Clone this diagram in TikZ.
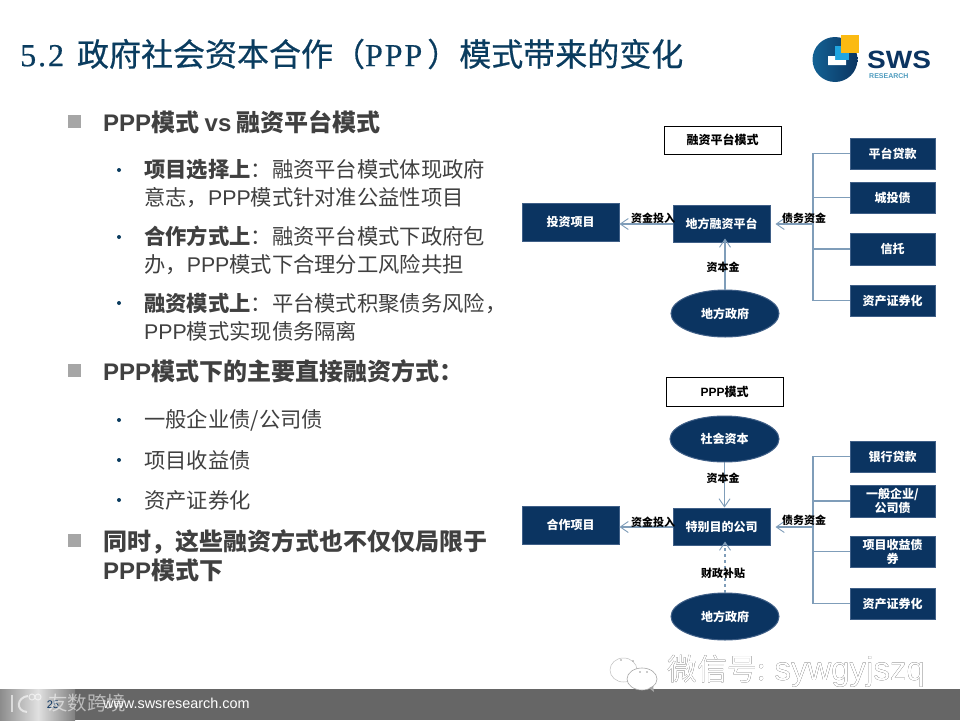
\documentclass[tikz,border=0pt]{standalone}
\usepackage{fontspec}
\usepackage[outline]{contour}
\setmainfont{Noto Sans CJK SC}
\newfontfamily\latfont{Liberation Sans}
\newfontfamily\titlefont[LetterSpace=6,FakeBold=0.5]{Liberation Serif}
\newfontfamily\titlecjk[FakeBold=0.5]{Noto Sans CJK SC}
\usetikzlibrary{shapes.geometric,arrows.meta,shadings}
\contourlength{0.9pt}
\definecolor{navy}{HTML}{0B3461}
\definecolor{navyline}{HTML}{3F5F87}
\definecolor{connline}{HTML}{7F9DB9}
\definecolor{titlecol}{HTML}{0A3C5F}
\definecolor{bodycol}{HTML}{404040}
\definecolor{barcol}{HTML}{666666}
\definecolor{goldcol}{HTML}{FBBA12}
\definecolor{skycol}{HTML}{1FA5E0}
\definecolor{tealcol}{HTML}{4F9CBF}
\tikzset{
  bluebox/.style={rectangle,draw=navyline,fill=navy,line width=1pt,text=white,font=\bfseries\fontsize{12}{14}\selectfont,align=center,inner sep=0pt},
  blueoval/.style={ellipse,draw=navyline,fill=navy,line width=1pt,text=white,font=\bfseries\fontsize{12}{14}\selectfont,inner sep=0pt},
  titlebox/.style={rectangle,draw=black,fill=white,line width=0.7pt,font=\bfseries\fontsize{12}{14}\selectfont,inner sep=0pt},
  conn/.style={draw=connline,line width=1.2pt},
  flow/.style={conn,-{Straight Barb[length=8pt,width=11pt,line width=0.9pt]}},
  flowlabel/.style={font=\bfseries\fontsize{11}{13}\selectfont,text=black,inner sep=0pt},
  headline/.style={anchor=west,align=left,text=bodycol,font=\bfseries\fontsize{24}{29}\selectfont,inner sep=0pt},
  subline/.style={anchor=west,align=left,text=bodycol,font=\fontsize{21.3}{28}\selectfont,inner sep=0pt},
  square/.style={rectangle,fill=black!35,minimum size=13pt,inner sep=0pt},
  dot/.style={circle,fill=titlecol,minimum size=4pt,inner sep=0pt}
}
\begin{document}
\begin{tikzpicture}[x=1pt,y=-1pt]
\useasboundingbox (0,0) rectangle (960,720);
\fill[white] (0,0) rectangle (960,720);
% title
\node[anchor=west,inner sep=0pt,text=titlecol,font=\titlecjk\fontsize{32}{36}\selectfont] (title) at (20,54) {{\titlefont 5.2}\hspace{13pt}政府社会资本合作（{\titlefont PPP}\hspace{5pt}）模式带来的变化};
% logo
\shade[left color=navy!60!skycol,right color=navy] (835,59.5) circle (22.5);
\fill[skycol] (835,46) rectangle (849,60);
\fill[white] (828,56) -- (835,56) -- (835,60) -- (846,60) -- (846,65) -- (828,65) -- cycle;
\fill[goldcol] (841,35) rectangle (859,53);
\node[anchor=west,inner sep=0pt,text=navy,xscale=1.12,font=\latfont\bfseries\fontsize{25}{25}\selectfont] (swsname) at (867,60) {SWS};
\node[anchor=west,inner sep=0pt,text=tealcol,font=\latfont\bfseries\fontsize{7}{7}\selectfont] (swssub) at (869,76.5) {RESEARCH};
% left column
\node[square] (s1) at (74.5,121) {};
\node[headline] (h1) at (103,122) {{\latfont PPP}模式 {\latfont vs} 融资平台模式};
\node[dot] (d1) at (119,170) {};
\node[subline] (t1) at (144,184) {\textbf{项目选择上}：融资平台模式体现政府\\意志，{\latfont PPP}模式针对准公益性项目};
\node[dot] (d2) at (119,237) {};
\node[subline] (t2) at (144,250.5) {\textbf{合作方式上}：融资平台模式下政府包\\办，{\latfont PPP}模式下合理分工风险共担};
\node[dot] (d3) at (119,303) {};
\node[subline] (t3) at (144,317) {\textbf{融资模式上}：平台模式积聚债务风险，\\{\latfont PPP}模式实现债务隔离};
\node[square] (s2) at (74.5,370) {};
\node[headline] (h2) at (103,371) {{\latfont PPP}模式下的主要直接融资方式：};
\node[dot] (d4) at (119,420) {};
\node[subline] (t4) at (144,420) {一般企业债/公司债};
\node[dot] (d5) at (119,460) {};
\node[subline] (t5) at (144,460) {项目收益债};
\node[dot] (d6) at (119,500) {};
\node[subline] (t6) at (144,500) {资产证券化};
\node[square] (s3) at (74.5,540) {};
\node[headline] (h3) at (103,555.5) {同时，这些融资方式也不仅仅局限于\\{\latfont PPP}模式下};
% upper scheme
\node[titlebox,minimum width=117pt,minimum height=28pt] (tA) at (722.5,140) {融资平台模式};
\node[bluebox,minimum width=97pt,minimum height=38pt] (projA) at (570.5,222) {投资项目};
\node[bluebox,minimum width=97pt,minimum height=37pt] (compA) at (721.5,223.5) {地方融资平台};
\node[blueoval,minimum width=108pt,minimum height=47pt] (govA) at (725,313.5) {地方政府};
\node[bluebox,minimum width=85pt,minimum height=31pt] (a1) at (892.5,153.5) {平台贷款};
\node[bluebox,minimum width=85pt,minimum height=31pt] (a2) at (892.5,197.5) {城投债};
\node[bluebox,minimum width=85pt,minimum height=32pt] (a3) at (892.5,249) {信托};
\node[bluebox,minimum width=85pt,minimum height=31pt] (a4) at (892.5,300.5) {资产证券化};
\coordinate (trA) at (813,224);
\draw[conn] (a1.west) -- (trA |- a1.west) -- (trA |- a4.west) -- (a4.west);
\draw[conn] (a2.west) -- (trA |- a2.west);
\draw[conn] (a3.west) -- (trA |- a3.west);
\draw[flow] (trA) -- ([xshift=5pt]compA.east |- trA) ;
\draw[flow] (compA.west |- trA) -- (projA.east |- trA);
\draw[flow] (govA.north) -- ([yshift=4pt]govA.north |- compA.south);
\node[flowlabel] (lA1) at (653,218) {资金投入};
\node[flowlabel] (lA2) at (804,218) {债务资金};
\node[flowlabel] (lA3) at (723,267) {资本金};
% lower scheme
\node[titlebox,minimum width=117pt,minimum height=29pt] (tB) at (724.5,391.5) {{\latfont PPP}模式};
\node[bluebox,minimum width=97pt,minimum height=38pt] (projB) at (570.5,525) {合作项目};
\node[bluebox,minimum width=97pt,minimum height=37pt] (compB) at (721.5,526.5) {特别目的公司};
\node[blueoval,minimum width=109pt,minimum height=46pt] (capB) at (724.5,439) {社会资本};
\node[blueoval,minimum width=108pt,minimum height=47pt] (govB) at (725,616.5) {地方政府};
\node[bluebox,minimum width=85pt,minimum height=31pt] (b1) at (892.5,456.5) {银行贷款};
\node[bluebox,minimum width=85pt,minimum height=32pt] (b2) at (892.5,501) {一般企业/\\公司债};
\node[bluebox,minimum width=85pt,minimum height=31pt] (b3) at (892.5,551.5) {项目收益债\\券};
\node[bluebox,minimum width=85pt,minimum height=31pt] (b4) at (892.5,603.5) {资产证券化};
\coordinate (trB) at (813,527);
\draw[conn] (b1.west) -- (trB |- b1.west) -- (trB |- b4.west) -- (b4.west);
\draw[conn] (b2.west) -- (trB |- b2.west);
\draw[conn] (b3.west) -- (trB |- b3.west);
\draw[flow] (trB) -- ([xshift=5pt]compB.east |- trB);
\draw[flow] (compB.west |- trB) -- (projB.east |- trB);
\draw[flow] (capB.south) -- (capB.south |- compB.north);
\draw[flow,dashed] (govB.north) -- ([yshift=4pt]govB.north |- compB.south);
\node[flowlabel] (lB1) at (653,522) {资金投入};
\node[flowlabel] (lB2) at (804,520) {债务资金};
\node[flowlabel] (lB3) at (723,478) {资本金};
\node[flowlabel] (lB4) at (723,573) {财政补贴};
% footer bar
\fill[barcol] (0,689) rectangle (960,720);
\shade[left color=black!45,right color=black!12] (0,689) rectangle (38,720);
\shade[left color=black!12,right color=black!50] (38,689) rectangle (75,720);
\draw[white,opacity=.6,line width=2pt] (11.5,695) -- (11.5,712);
\draw[white,opacity=.6,line width=2pt] (28,696) .. controls (17,697) and (15,711) .. (27,712);
\draw[white,opacity=.6,line width=1pt] (32,697) circle (3) (38,697) circle (3);
\node[anchor=west,inner sep=0pt,text=white,font=\latfont\fontsize{14.4}{14}\selectfont] (web) at (103,703) {www.swsresearch.com};
\node[inner sep=0pt,text=navy,font=\latfont\fontsize{11}{11}\selectfont] (page) at (53,705) {25};
\node[anchor=west,inner sep=0pt,text=white,text opacity=.55,font=\fontsize{19.5}{20}\selectfont] (mark) at (48,703) {友数跨境};
% wechat mark
\draw[black!25,fill=white,line width=0.5pt] (623.5,670) ellipse (13.5 and 12);
\draw[black!35,fill=white,line width=0.6pt] (642,679) ellipse (15 and 11);
\fill[black!40] (621,660) circle (0.8) (633,661) circle (0.8) (640,672) circle (0.8) (647,672) circle (0.8);
\fill[black!35] (649,688) -- (654,692) -- (653,686) -- cycle;
\node[anchor=west,inner sep=0pt,text=white,font=\fontsize{30}{32}\selectfont] (wx) at (667,671) {\contour{black}{微信号:}\hspace{9pt}{\latfont\fontsize{33}{33}\selectfont\contour{black}{sywgyjszq}}};
\end{tikzpicture}
\end{document}
